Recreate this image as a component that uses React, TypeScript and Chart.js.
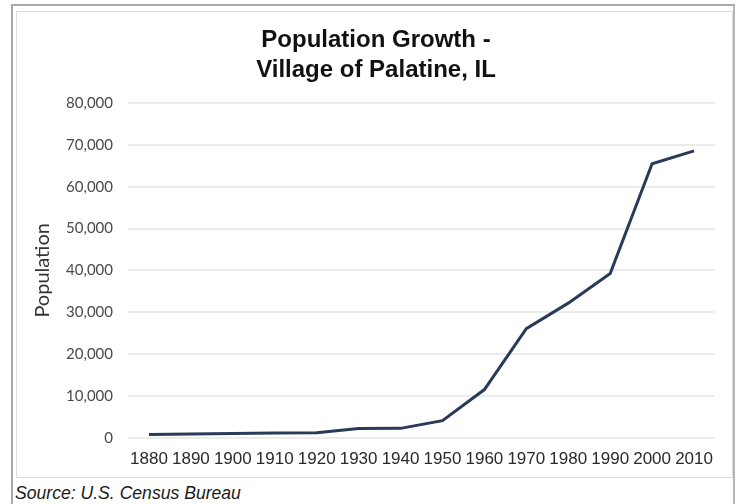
import React, { useEffect, useRef } from 'react';
import { Chart, registerables } from 'chart.js';

Chart.register(...registerables);

const years = ['1880', '1890', '1900', '1910', '1920', '1930', '1940', '1950', '1960', '1970', '1980', '1990', '2000', '2010'];
const population = [741, 891, 1010, 1144, 1210, 2222, 2229, 4079, 11504, 26050, 32166, 39253, 65479, 68557];
const yMin = 0;
const yMax = 80000;
const yStep = 10000;
const titleLines = ['Population Growth -', 'Village of Palatine, IL'];
const yAxisTitle = 'Population';
const sourceText = 'Source: U.S. Census Bureau';

export default function App() {
  const canvasRef = useRef<HTMLCanvasElement | null>(null);

  useEffect(() => {
    if (!canvasRef.current) return;
    const chart = new Chart(canvasRef.current, {
      type: 'line',
      data: {
        labels: years,
        datasets: [
          {
            label: 'Population',
            data: population,
            borderColor: '#2a3b59',
            backgroundColor: '#2a3b59',
            borderWidth: 3,
            pointRadius: 0,
            pointHoverRadius: 0,
            tension: 0,
            fill: false,
          },
        ],
      },
      options: {
        responsive: false,
        animation: false,
        devicePixelRatio: 1,
        layout: { padding: { left: 37, right: 23, top: 0, bottom: 0 } },
        plugins: {
          legend: { display: false },
          tooltip: { enabled: false },
          title: {
            display: true,
            text: titleLines,
            color: '#111111',
            font: { family: '"Liberation Sans", Arial, sans-serif', size: 24, weight: 'bold', lineHeight: 1.25 },
            padding: { top: 25, bottom: 18 },
          },
        },
        scales: {
          x: {
            type: 'category',
            offset: true,
            grid: { display: false, drawTicks: false },
            border: { display: false },
            ticks: {
              color: '#2a2a2a',
              font: { family: '"Liberation Sans", Arial, sans-serif', size: 17 },
              padding: 11,
              maxRotation: 0,
              minRotation: 0,
              autoSkip: false,
            },
            afterFit: (scale: any) => {
              scale.height = 504 - 437.7;
            },
          },
          y: {
            min: yMin,
            max: yMax,
            grid: { color: '#ebebeb', lineWidth: 2, drawTicks: false },
            border: { display: false },
            ticks: {
              stepSize: yStep,
              color: '#4a4a4a',
              font: { family: 'Lato, "Open Sans", sans-serif', size: 15 },
              padding: 15,
              callback: (v: any) => Number(v).toLocaleString('en-US'),
            },
            title: {
              display: true,
              text: yAxisTitle,
              color: '#333333',
              font: { family: 'Lato, "Open Sans", sans-serif', size: 20, lineHeight: 0.57 },
              padding: 0,
            },
            afterFit: (scale: any) => {
              scale.width = 128 - 37;
            },
          },
        },
      },
    });
    return () => chart.destroy();
  }, []);

  return (
    <div style={{ position: 'fixed', left: 0, top: 0, width: 738, height: 504, background: '#ffffff', overflow: 'hidden' }}>
      <div
        style={{
          position: 'absolute',
          left: 11,
          top: 4,
          width: 724,
          height: 520,
          borderLeft: '2px solid #a9a9a9',
          borderTop: '2px solid #a9a9a9',
          borderRight: '2px solid #b5b5b5',
          boxSizing: 'border-box',
        }}
      />
      <div
        style={{
          position: 'absolute',
          left: 16,
          top: 11,
          width: 717,
          height: 467,
          border: '1px solid #dcdcdc',
          boxSizing: 'border-box',
        }}
      />
      <div
        style={{
          position: 'absolute',
          left: 15,
          top: 483,
          height: 20,
          lineHeight: '20px',
          fontFamily: '"Liberation Sans", Arial, sans-serif',
          fontStyle: 'italic',
          fontSize: 17.6,
          color: '#1a1a1a',
          whiteSpace: 'nowrap',
        }}
      >
        {sourceText}
      </div>
      <canvas ref={canvasRef} width={738} height={504} style={{ position: 'absolute', left: 0, top: 0, width: 738, height: 504 }} />
    </div>
  );
}
